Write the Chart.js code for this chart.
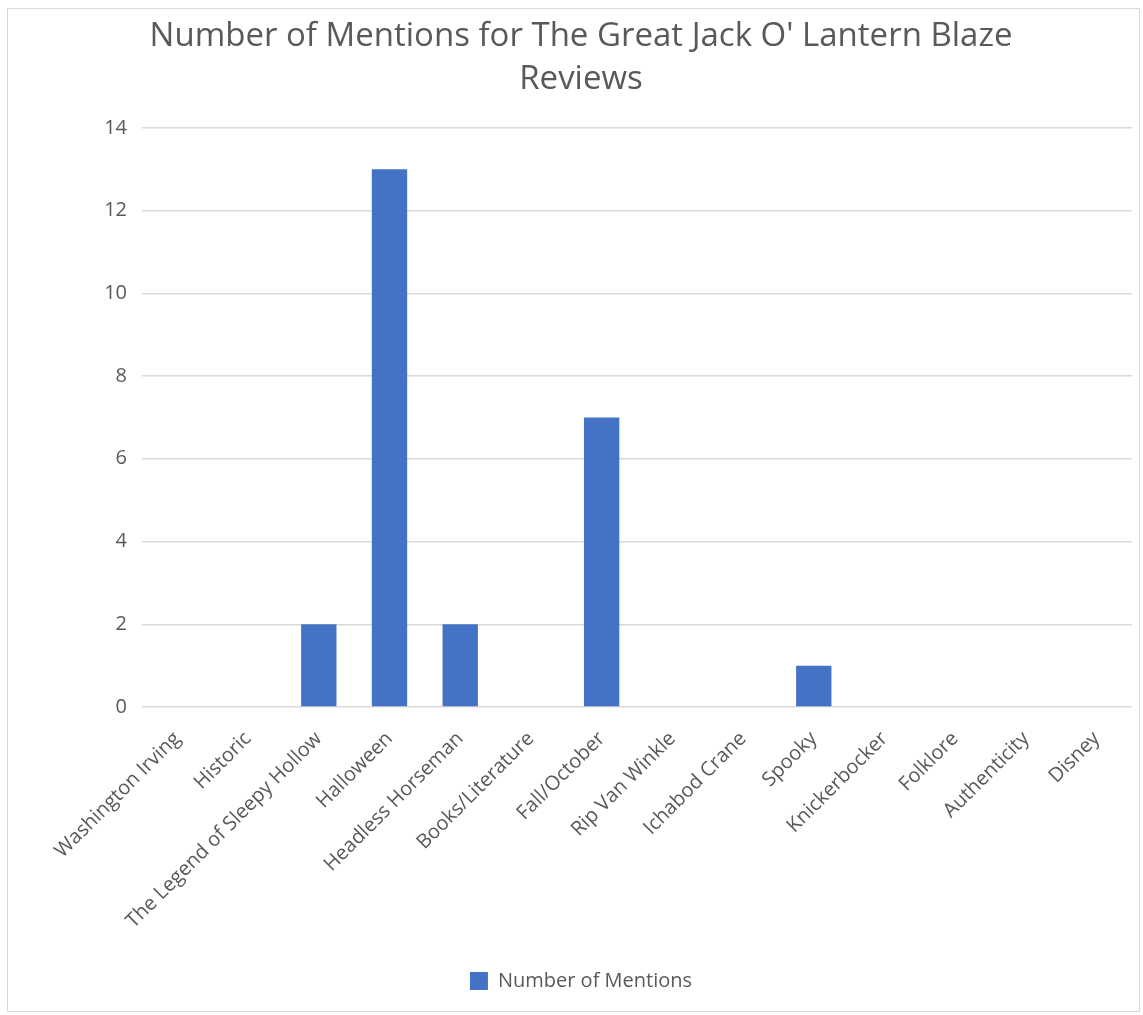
<!DOCTYPE html>
<html>
<head>
<meta charset="utf-8">
<script src="https://cdn.jsdelivr.net/npm/chart.js@4.4.0/dist/chart.umd.min.js"></script>
<style>
  html, body { margin: 0; padding: 0; background: #fff; }
  #wrap {
    position: absolute; left: 7px; top: 8px;
    width: 1131px; height: 1002px;
    border: 1px solid #d9d9d9;
  }
</style>
</head>
<body>
<div id="wrap"><canvas id="mentionsChart" width="1131" height="1002"></canvas></div>
<script>
// chart data
const categories = ['Washington Irving', 'Historic', 'The Legend of Sleepy Hollow', 'Halloween',
  'Headless Horseman', 'Books/Literature', 'Fall/October', 'Rip Van Winkle', 'Ichabod Crane',
  'Spooky', 'Knickerbocker', 'Folklore', 'Authenticity', 'Disney'];
const mentions = [0, 0, 2, 13, 2, 0, 7, 0, 0, 1, 0, 0, 0, 0];
const seriesName = 'Number of Mentions';
const titleLines = ["Number of Mentions for The Great Jack O' Lantern Blaze", 'Reviews'];

const textColor = '#595959';
const fontFamily = "'Open Sans', 'Noto Sans', sans-serif";

var ctx = document.getElementById('mentionsChart').getContext('2d');
var chart = new Chart(ctx, {
  type: 'bar',
  data: {
    labels: categories,
    datasets: [{
      label: seriesName,
      backgroundColor: '#4472c4',
      data: mentions,
      categoryPercentage: 1,
      barPercentage: 0.5
    }]
  },
  options: {
    responsive: false,
    animation: false,
    // left padding nudges title + legend right, y axis width compensates
    layout: { padding: { top: 0, right: 7, bottom: 10, left: 22 } },
    plugins: {
      title: {
        display: true,
        text: titleLines,
        color: textColor,
        font: { family: fontFamily, size: 33, weight: 'normal', lineHeight: 1.3 },
        padding: { top: 6, bottom: 27 }
      },
      legend: {
        position: 'bottom',
        labels: {
          color: textColor,
          font: { family: fontFamily, size: 20 },
          boxWidth: 18,
          boxHeight: 18,
          padding: 10
        }
      },
      tooltip: { enabled: false }
    },
    scales: {
      x: {
        grid: { display: false },
        border: { display: false },
        ticks: {
          color: textColor,
          font: { family: fontFamily, size: 20 },
          minRotation: 45,
          maxRotation: 45,
          autoSkip: false,
          padding: 12
        },
        afterFit: function(scale) { scale.height = 254; }
      },
      y: {
        min: 0,
        max: 14,
        grid: { color: '#d9d9d9', lineWidth: 1.5, drawTicks: false },
        border: { display: false },
        ticks: {
          stepSize: 2,
          color: textColor,
          font: { family: fontFamily, size: 20 },
          padding: 15
        },
        afterFit: function(scale) { scale.width = 112; }
      }
    }
  }
});
</script>
</body>
</html>
